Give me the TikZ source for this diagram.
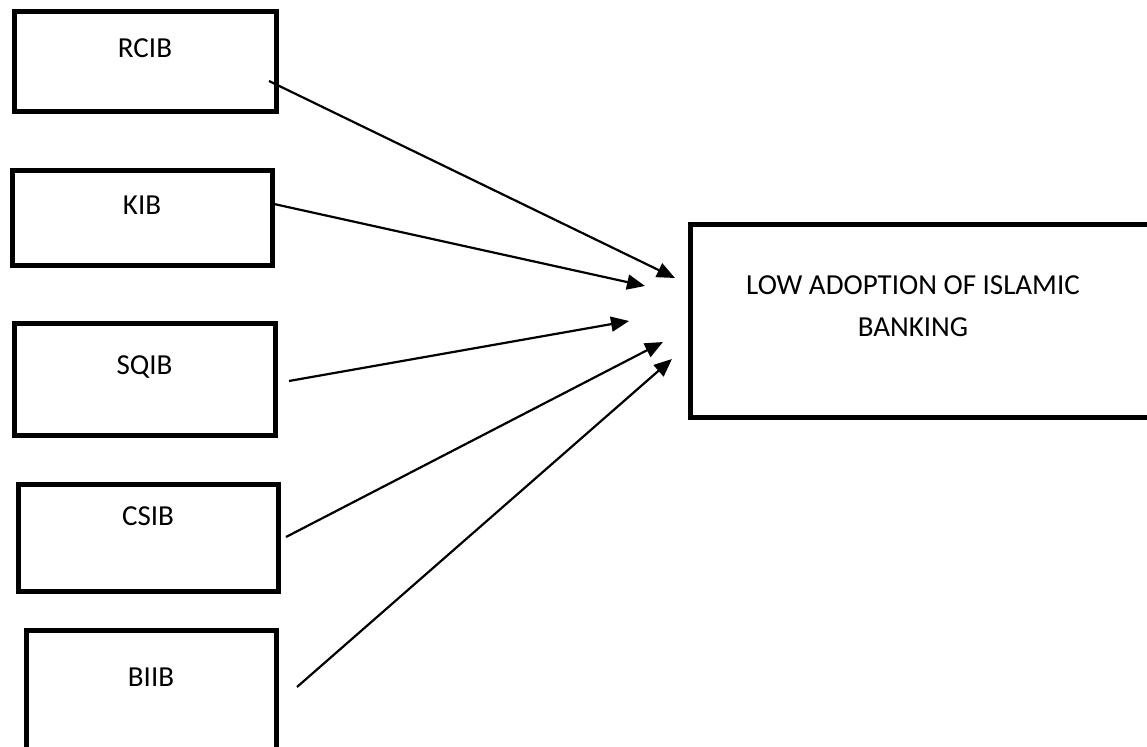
\documentclass[tikz,border=0pt]{standalone}
\usepackage{fontspec}
\setmainfont{Carlito}
\usepackage{tikz}
\usetikzlibrary{positioning, arrows.meta}
\tikzstyle{diagram} = [x = 0.5pt, y = -0.5pt]
\tikzstyle{boxStyle} = [draw=black, line width=2.5pt, inner sep=0pt]
\tikzstyle{boxText} = [font=\fontsize{14.5}{21}\selectfont, align=center]
\tikzstyle{arrowStyle} = [-{Triangle[length=9pt, width=7.5pt]}, line width=1.1pt]
\newcommand{\factorBox}[7]{\node [boxStyle, minimum width=#4*0.5pt, minimum height=#5*0.5pt] (#1Box) at (#2,#3) {}; \node [boxText] (#1) at (#2,#6) {#7};}
\newcommand{\factorArrow}[5]{\coordinate (#1Out) at (#2,#3); \draw [arrowStyle] (#1Out) -- (#4,#5) coordinate (#1In);}

\begin{document}
\begin{tikzpicture}[diagram]
  \useasboundingbox (0,0) rectangle (1147,747);
  \clip (0,0) rectangle (1147,747);
  \factorBox{rcib}{145}{62}{262}{100}{48}{RCIB}
  \factorBox{kib}{142}{218.5}{260}{95}{205}{KIB}
  \factorBox{sqib}{144.5}{380}{261}{112}{367}{SQIB}
  \factorBox{csib}{148}{538.5}{260}{107}{516}{CSIB}
  \factorBox{biib}{151}{710}{250}{158}{677}{BIIB}
  \node [boxStyle, minimum width=470*0.5pt, minimum height=193*0.5pt] (lowBox) at (925,321.5) {};
  \node [boxText] (low) at (913,306) {LOW ADOPTION OF ISLAMIC\\BANKING};
  \factorArrow{rcib}{269}{81}{675}{278}
  \factorArrow{kib}{274}{204}{645}{286}
  \factorArrow{sqib}{289}{381}{629}{321}
  \factorArrow{csib}{286}{537}{663}{342}
  \factorArrow{biib}{297}{687}{672}{359}
\end{tikzpicture}
\end{document}
